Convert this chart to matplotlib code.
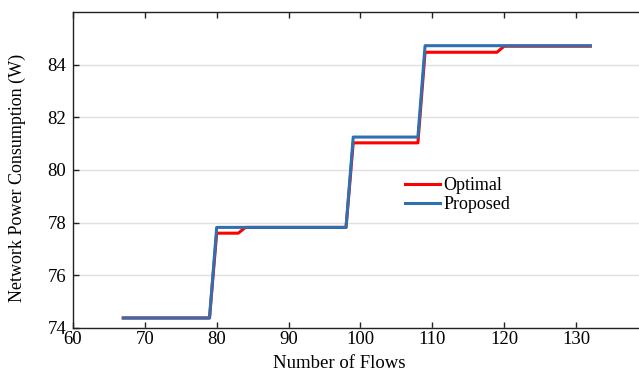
import numpy as np
import matplotlib.pyplot as plt

plt.rcParams['font.family'] = ['Liberation Serif', 'DejaVu Serif']
plt.rcParams['font.size'] = 13.5

# breakpoints of the two curves (number of flows, power in W)
flows_opt = [67, 79, 80, 83, 84, 98, 99, 108, 109, 119, 120, 132]
power_opt = [74.38, 74.38, 77.6, 77.6, 77.82, 77.82, 81.03, 81.03, 84.47, 84.47, 84.7, 84.7]

flows_prop = [67, 79, 80, 98, 99, 108, 109, 132]
power_prop = [74.38, 74.38, 77.82, 77.82, 81.25, 81.25, 84.72, 84.72]

xticks = [60, 70, 80, 90, 100, 110, 120, 130]
yticks = [74, 76, 78, 80, 82, 84]

fig = plt.figure(figsize=(6.39, 3.72), dpi=100)
ax = fig.add_axes([0.1142, 0.1183, 0.8858, 0.8495])

ax.plot(flows_opt, power_opt, color='#ff0000', lw=2.2, label='Optimal')
ax.plot(flows_prop, power_prop, color='#2f70b0', lw=2.2, label='Proposed')

ax.set_xlim(60, 138.77)
ax.set_ylim(74, 86)
ax.set_xticks(xticks)
ax.set_yticks(yticks)
ax.yaxis.grid(True, color='#e0e0e0', lw=1.0)
ax.set_axisbelow(True)
ax.spines['right'].set_visible(False)
for s in ['left', 'bottom', 'top']:
    ax.spines[s].set_color('#222222')
    ax.spines[s].set_linewidth(1.0)
ax.tick_params(direction='in', top=True, length=4, width=1, colors='#222222',
               labelcolor='black')
ax.tick_params(axis='y', pad=5)
ax.tick_params(axis='x', pad=2)

ax.set_xlabel('Number of Flows')
ax.set_ylabel('Network Power Consumption (W)', fontsize=13)
ax.xaxis.set_label_coords(0.47, -0.085)
ax.yaxis.set_label_coords(-0.083, 0.475)

ax.legend(loc='center left', bbox_to_anchor=(0.587, 0.421), frameon=False,
          handlelength=1.9, handletextpad=0.2, borderpad=0, borderaxespad=0,
          labelspacing=0.1, fontsize=13)

fig.savefig('out.png', dpi=100)
